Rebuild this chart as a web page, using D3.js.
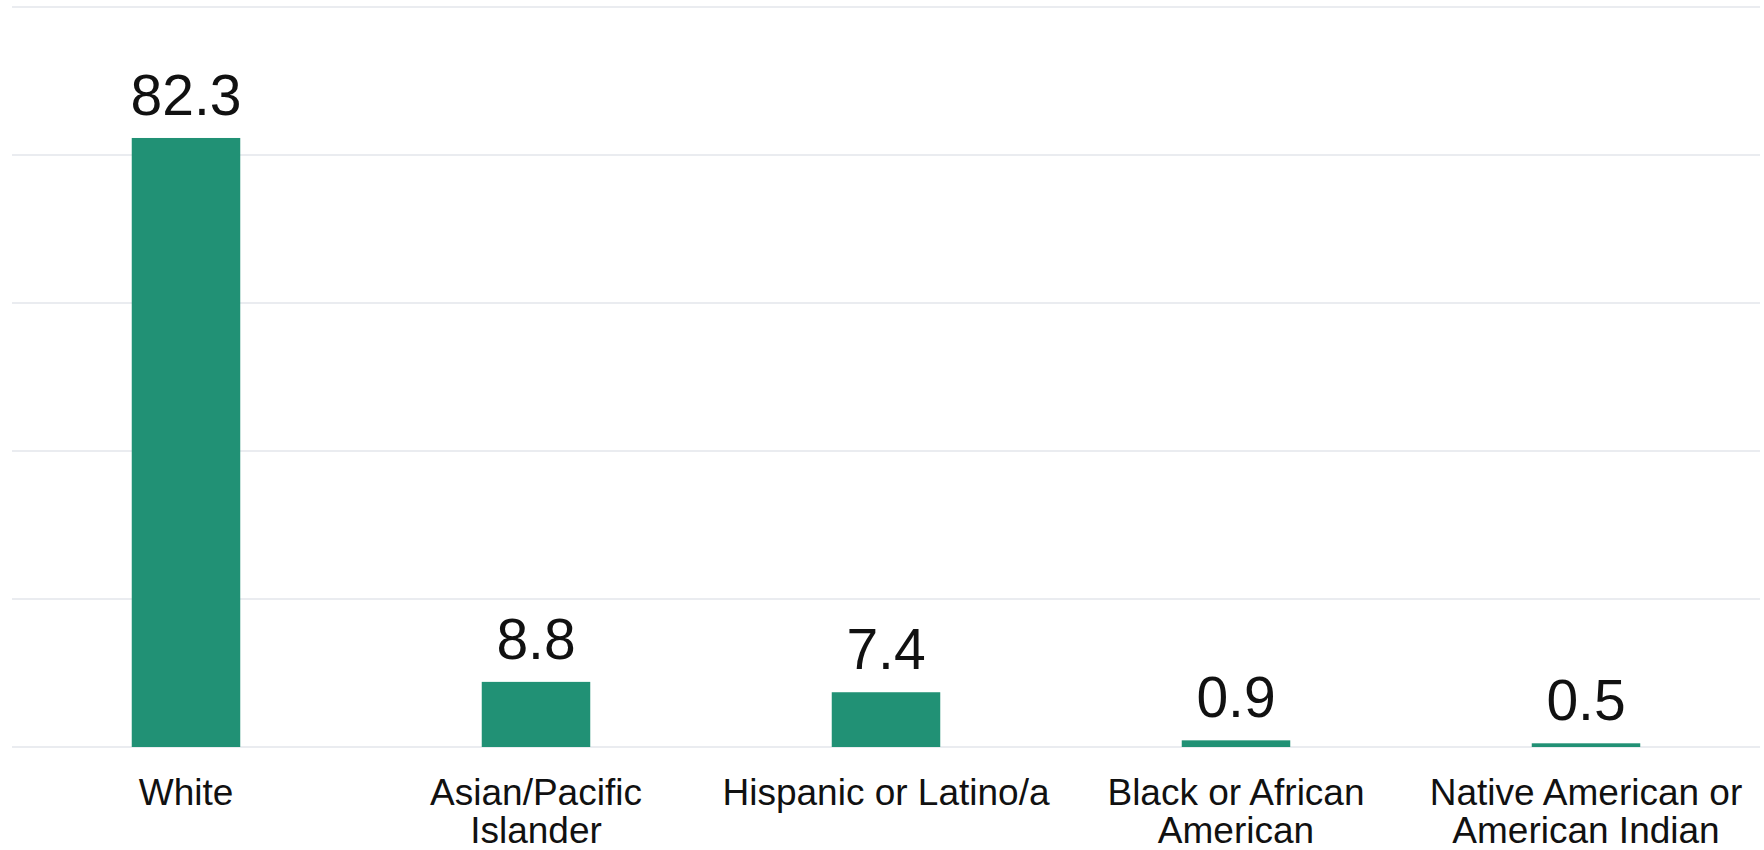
<!DOCTYPE html>
<html>
<head>
<meta charset="utf-8">
<script src="https://d3js.org/d3.v7.min.js"></script>
<style>
  body { margin: 0; background: #fff; }
  text { font-family: "Liberation Sans", Arial, sans-serif; fill: #111; }
</style>
</head>
<body>
<svg id="chart" width="1764" height="850"></svg>
<script>
// data
const groups = ["White", "Asian/Pacific Islander", "Hispanic or Latino/a",
                "Black or African American", "Native American or American Indian"];
const shares = [82.3, 8.8, 7.4, 0.9, 0.5];
const gridTicks = [0, 20, 40, 60, 80, 100];

const svg = d3.select("#chart");

// scales
const x = d3.scaleBand().domain(groups).range([11, 1761]).paddingInner(0.69).paddingOuter(0.345);
const y = d3.scaleLinear().domain([0, 100]).range([747, 7]);

// gridlines
svg.append("g")
  .selectAll("line")
  .data(gridTicks)
  .join("line")
    .attr("x1", 12).attr("x2", 1760)
    .attr("y1", d => y(d)).attr("y2", d => y(d))
    .attr("stroke", "#e3e6eb")
    .attr("stroke-width", 1.6);

// bars
svg.append("g")
  .selectAll("rect")
  .data(shares)
  .join("rect")
    .attr("x", (d, i) => x(groups[i]))
    .attr("width", x.bandwidth())
    .attr("y", d => y(d))
    .attr("height", d => y(0) - y(d))
    .attr("fill", "#219175");

// value labels above bars
svg.append("g")
  .selectAll("text")
  .data(shares)
  .join("text")
    .attr("x", (d, i) => x(groups[i]) + x.bandwidth() / 2)
    .attr("y", d => y(d) - 23)
    .attr("text-anchor", "middle")
    .style("font-size", "57px")
    .text(d => d.toFixed(1));

// category labels, wrapped
const cats = svg.append("g")
  .selectAll("text")
  .data(groups)
  .join("text")
    .attr("x", d => x(d) + x.bandwidth() / 2)
    .attr("y", 805)
    .attr("text-anchor", "middle")
    .style("font-size", "37px")
    .text(d => d);

cats.each(function(d) {
  const t = d3.select(this);
  const cx = t.attr("x");
  const words = d.split(" ");
  t.text(null);
  let line = [];
  let lineNo = 0;
  let tspan = t.append("tspan").attr("x", cx).attr("dy", 0);
  words.forEach(w => {
    line.push(w);
    tspan.text(line.join(" "));
    if (tspan.node().getComputedTextLength() > 340 && line.length > 1) {
      line.pop();
      tspan.text(line.join(" "));
      line = [w];
      lineNo++;
      tspan = t.append("tspan").attr("x", cx).attr("dy", "38px").text(w);
    }
  });
});
</script>
</body>
</html>
